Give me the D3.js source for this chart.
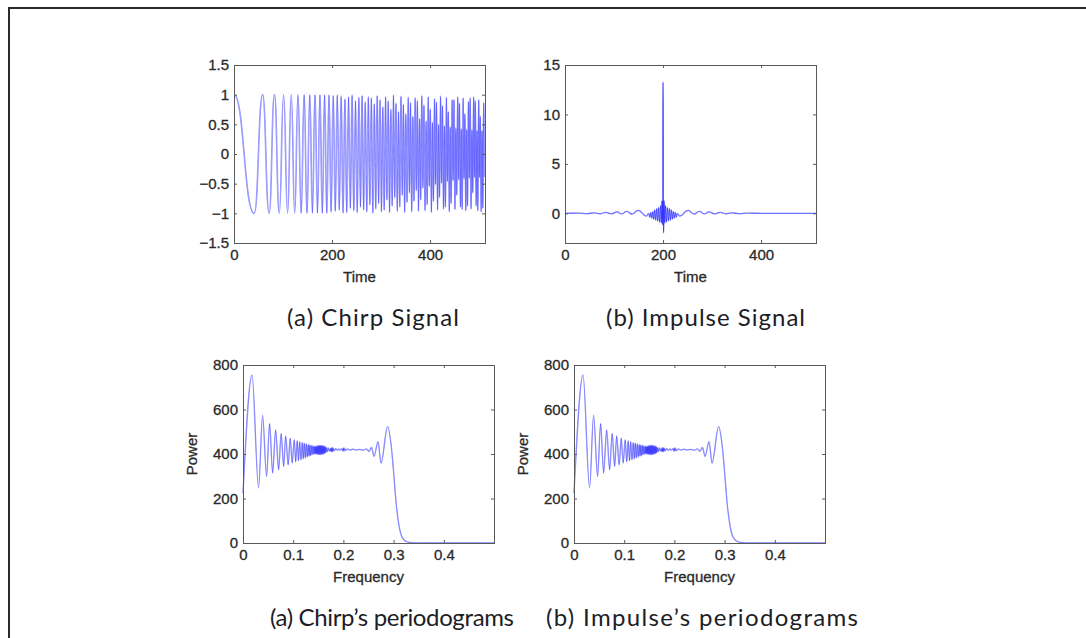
<!DOCTYPE html>
<meta charset="utf-8">
<script src="https://d3js.org/d3.v7.min.js"></script>
<style>
  body { margin: 0; padding: 0; background: white; }
  .tick text { font-family: "Liberation Sans", Arial, sans-serif; font-size: 15px; fill: #2a2a2a; stroke: #2a2a2a; stroke-width: 0.3; }
  .tick line { stroke: #5a5a5a; }
  .label { font-family: "Liberation Sans", Arial, sans-serif; font-size: 15px; fill: #2a2a2a; stroke: #2a2a2a; stroke-width: 0.3; }
  .caption { font-family: Lato, "Open Sans", sans-serif; font-size: 24px; fill: #1d1d26; }
</style>
<body>
<svg id="fig" width="1086" height="638"></svg>
<script>

// (a) chirp signal: turning points (time, value)
var chirpTimes = [0, 41.3, 58.4, 71.6, 82.6, 92.4, 101.2, 109.3, 116.8, 123.9, 130.6, 137.0, 143.1, 148.9, 154.6, 160.0,
  165.2, 170.3, 175.3, 180.1, 184.8, 189.3, 193.8, 198.1, 202.4, 206.6, 210.6, 214.7, 218.6, 222.5, 226.3, 230.0,
  233.7, 237.3, 240.9, 244.4, 247.9, 251.3, 254.7, 258.0, 261.3, 264.5, 267.7, 270.9, 274.0, 277.1, 280.2, 283.2,
  286.2, 289.2, 292.1, 295.0, 297.9, 300.8, 303.6, 306.4, 309.2, 311.9, 314.6, 317.3, 320.0, 322.7, 325.3, 327.9,
  330.5, 333.1, 335.6, 338.2, 340.7, 343.2, 345.6, 348.1, 350.5, 353.0, 355.4, 357.8, 360.1, 362.5, 364.8, 367.2,
  369.5, 371.8, 374.1, 376.3, 378.6, 380.9, 383.1, 385.3, 387.5, 389.7, 391.9, 394.1, 396.2, 398.4, 400.5, 402.7,
  404.8, 406.9, 409.0, 411.0, 413.1, 415.2, 417.2, 419.3, 421.3, 423.3, 425.3, 427.3, 429.3, 431.3, 433.3, 435.2,
  437.2, 439.2, 441.1, 443.0, 445.0, 446.9, 448.8, 450.7, 452.5, 454.4, 456.3, 458.2, 460.0, 461.9, 463.7, 465.5,
  467.4, 469.2, 471.0, 472.8, 474.6, 476.4, 478.2, 480.0, 481.8, 483.5, 485.3, 487.0, 488.8, 490.5, 492.3, 494.0,
  495.7, 497.4, 499.1, 500.8, 502.5, 504.2, 505.9, 507.6, 509.3, 511.0];
var chirpValues = [1, -1, 1, -1, 1, -1, 1, -1, 1, -1, 1, -1, 1, -1, 1, -1,
  1, -1, 1, -1, 1, -1, 1, -0.98, 0.99, -0.97, 1, -0.95, 0.98, -1, 0.93, -0.99,
  0.97, -0.92, 1, -0.96, 0.9, -0.99, 0.96, -0.9, 0.99, -0.95, 0.88, -0.98, 0.97, -0.86, 0.95, -1,
  0.85, -0.93, 0.99, -0.84, 0.92, -0.98, 0.8, -0.95, 0.97, -0.78, 0.9, -0.99, 0.76, -0.88, 1, -0.74,
  0.86, -0.97, 0.72, -0.9, 0.98, -0.7, 0.84, -0.99, 0.68, -0.82, 0.96, -0.66, 0.87, -0.98, 0.64, -0.8,
  0.95, -0.62, 0.9, -0.97, 0.6, -0.78, 0.99, -0.58, 0.83, -0.96, 0.56, -0.86, 0.97, -0.55, 0.76, -0.99,
  0.54, -0.8, 0.94, -0.52, 0.88, -0.95, 0.5, -0.74, 0.98, -0.5, 0.82, -0.93, 0.48, -0.9, 0.96, -0.47,
  0.72, -0.98, 0.46, -0.84, 0.92, -0.45, 0.92, -0.94, 0.44, -0.7, 0.97, -0.44, 0.86, -0.9, 0.43, -0.94,
  0.95, -0.42, 0.68, -0.96, 0.42, -0.88, 0.89, -0.41, 0.95, -0.93, 0.41, -0.66, 0.97, -0.4, 0.9, -0.88,
  0.4, -0.96, 0.92, -0.4, 0.64, -0.98, 0.4, -0.92, 0.87, -0.4];

// (b) impulse signal: turning points (time, value)
var impulseTimes = [0, 28, 45, 60, 72, 83, 95, 106, 116, 126, 137, 149, 166,
  171, 173, 175, 177, 179, 181, 183, 185, 187, 189, 191, 193, 195, 196.5, 198, 199,
  200, 201, 202, 203.5, 205, 207, 209, 211, 213, 215, 217, 219, 221, 223, 225, 227, 229,
  234, 251, 263, 274, 284, 294, 305, 317, 328, 340, 355, 372, 400, 512];
var impulseValues = [0, 0.02, -0.02, 0.04, -0.04, 0.1, -0.05, 0.14, -0.06, 0.2, -0.07, 0.3, -0.28,
  0.0, -0.4, 0.1, -0.5, 0.2, -0.6, 0.35, -0.7, 0.5, -0.8, 0.6, -0.9, 0.8, -1.0, 1.3, -1.2,
  13.3, -2.0, 1.3, -1.0, 0.8, -0.9, 0.6, -0.8, 0.5, -0.7, 0.35, -0.6, 0.2, -0.5, 0.1, -0.4, 0.0,
  -0.28, 0.3, -0.07, 0.2, -0.06, 0.14, -0.05, 0.1, -0.04, 0.04, -0.02, 0.02, 0, 0];

// periodogram (same for both signals)
var periodFreqs = [0, 0.018, 0.031, 0.039, 0.047, 0.053, 0.059, 0.065, 0.071, 0.076, 0.081, 0.085, 0.090, 0.094, 0.098,
  0.102, 0.105, 0.108, 0.1105, 0.113, 0.1155, 0.118, 0.120, 0.122, 0.124, 0.126, 0.128, 0.130, 0.1315, 0.133, 0.1345,
  0.136, 0.1375, 0.139, 0.1405, 0.142, 0.143, 0.144,
  0.145, 0.146, 0.147, 0.148, 0.149, 0.150, 0.151, 0.152, 0.153, 0.154, 0.155, 0.156, 0.157, 0.158, 0.159, 0.160,
  0.161, 0.162, 0.163, 0.164, 0.165,
  0.1665, 0.168, 0.170, 0.172, 0.174, 0.175, 0.176, 0.177, 0.178, 0.179, 0.180, 0.182, 0.185, 0.188, 0.191, 0.194,
  0.197, 0.199, 0.200, 0.201, 0.202, 0.204, 0.208, 0.213, 0.219, 0.226, 0.233, 0.240, 0.246, 0.251, 0.256, 0.261,
  0.269, 0.275, 0.288, 0.296, 0.300, 0.305, 0.311, 0.318, 0.328, 0.345, 0.4, 0.5];
var periodPowers = [224, 755, 247, 575, 299, 538, 314, 508, 329, 493, 344, 481, 351, 471, 359,
  465, 365, 460, 370, 456, 374, 452, 378, 449, 382, 446, 386, 443, 390, 441, 393,
  439, 396, 437, 399, 435, 401, 434,
  400, 435, 399, 437, 398, 438, 397, 439, 397, 439, 397, 439, 398, 438, 399, 437,
  401, 435, 403, 433, 406,
  430, 410, 427, 413, 425, 411, 428, 410, 428, 411, 426, 415, 424, 416, 423, 417,
  424, 413, 427, 413, 426, 415, 423, 417, 422, 418, 421, 417, 423, 412, 430, 389,
  456, 359, 523, 420, 320, 180, 75, 22, 4, 0.5, 0, 0];

var timeTicks = [0, 200, 400];
var chirpTicks = [-1.5, -1, -0.5, 0, 0.5, 1, 1.5];
var impulseTicks = [0, 5, 10, 15];
var freqTicks = [0, 0.1, 0.2, 0.3, 0.4];
var powerTicks = [0, 200, 400, 600, 800];

var captions = ["(a) Chirp Signal", "(b) Impulse Signal", "(a) Chirp\u2019s periodograms", "(b) Impulse\u2019s periodograms"];

var svg = d3.select("#fig"),
  W = 251, H = 178;

svg.append("defs").append("filter").attr("id", "soft")
  .append("feGaussianBlur").attr("stdDeviation", 0.35);

// frame of the page
svg.append("path").attr("d", "M9,638V8H1086").attr("fill", "none")
  .attr("stroke", "#2b2b2b").attr("stroke-width", 2);

// cut a d3 path into one path per curve piece, so overlaps darken like the original
function splitSegments(d) {
  var out = [], cur = null;
  (d.match(/[MLC][^MLC]*/g) || []).forEach(function (tok) {
    var nums = tok.slice(1).split(",").map(Number);
    if (tok[0] === "M") { cur = nums; return; }
    out.push("M" + cur.join(",") + tok[0] + nums.join(","));
    cur = nums.slice(-2);
  });
  return out;
}

function panel(cfg) {
  var g = svg.append("g").attr("transform", "translate(" + cfg.left + "," + cfg.top + ")");

  var x = d3.scaleLinear().domain(cfg.xDomain).range([0, W]);
  var y = d3.scaleLinear().domain(cfg.yDomain).range([H, 0]);
  var fmt = d3.format("~g");

  var line = d3.line()
    .x(function (d) { return x(d[0]); })
    .y(function (d) { return y(d[1]); })
    .curve(cfg.curve);

  g.append("g")
    .attr("filter", "url(#soft)")
    .selectAll("path")
    .data(splitSegments(line(d3.zip(cfg.xs, cfg.ys))))
    .join("path")
    .attr("d", function (s) { return s; })
    .attr("fill", "none")
    .attr("stroke", "#1010ff")
    .attr("stroke-width", cfg.width)
    .attr("stroke-opacity", cfg.opacity);

  function clean(sel) { sel.select(".domain").remove(); }

  g.append("g").attr("transform", "translate(0," + H + ")")
    .call(d3.axisBottom(x).tickValues(cfg.xTicks).tickSize(-3).tickPadding(6).tickFormat(fmt)).call(clean);
  g.append("g")
    .call(d3.axisLeft(y).tickValues(cfg.yTicks).tickSize(-3).tickPadding(5).tickFormat(fmt)).call(clean);
  g.append("g")
    .call(d3.axisTop(x).tickValues(cfg.xTicks).tickSize(-3).tickFormat("")).call(clean);
  g.append("g").attr("transform", "translate(" + W + ",0)")
    .call(d3.axisRight(y).tickValues(cfg.yTicks).tickSize(-3).tickFormat("")).call(clean);

  g.append("rect")
    .attr("x", 0.5).attr("y", 0.5).attr("width", W).attr("height", H)
    .attr("fill", "none").attr("stroke", "#5a5a5a");

  g.append("text").attr("class", "label")
    .attr("x", W / 2).attr("y", H + 39)
    .attr("text-anchor", "middle")
    .text(cfg.xLabel);

  if (cfg.yLabel) {
    g.append("text").attr("class", "label")
      .attr("transform", "translate(-46," + (H / 2) + ") rotate(-90)")
      .attr("text-anchor", "middle")
      .text(cfg.yLabel);
  }
}

panel({ left: 234, top: 65, xDomain: [0, 512], yDomain: [-1.5, 1.5], xs: chirpTimes, ys: chirpValues,
  xTicks: timeTicks, yTicks: chirpTicks, xLabel: "Time", curve: d3.curveBumpX, width: 1.6, opacity: 0.42 });
panel({ left: 565, top: 65, xDomain: [0, 512], yDomain: [-3, 15], xs: impulseTimes, ys: impulseValues,
  xTicks: timeTicks, yTicks: impulseTicks, xLabel: "Time", curve: d3.curveBumpX, width: 1.3, opacity: 0.6 });
panel({ left: 243, top: 365, xDomain: [0, 0.5], yDomain: [0, 800], xs: periodFreqs, ys: periodPowers,
  xTicks: freqTicks, yTicks: powerTicks, xLabel: "Frequency", yLabel: "Power", curve: d3.curveMonotoneX, width: 1.3, opacity: 0.5 });
panel({ left: 574, top: 365, xDomain: [0, 0.5], yDomain: [0, 800], xs: periodFreqs, ys: periodPowers,
  xTicks: freqTicks, yTicks: powerTicks, xLabel: "Frequency", yLabel: "Power", curve: d3.curveMonotoneX, width: 1.3, opacity: 0.5 });

// captions under each panel: left x, baseline y, drawn width
var capPos = [[287, 326, 172], [606, 326, 199], [270, 626, 244], [546, 626, 312]];
svg.selectAll(".caption")
  .data(captions)
  .join("text")
  .attr("class", "caption")
  .attr("x", function (d, i) { return capPos[i][0]; })
  .attr("y", function (d, i) { return capPos[i][1]; })
  .attr("textLength", function (d, i) { return capPos[i][2]; })
  .attr("lengthAdjust", "spacing")
  .text(function (d) { return d; });

</script>
</body>
